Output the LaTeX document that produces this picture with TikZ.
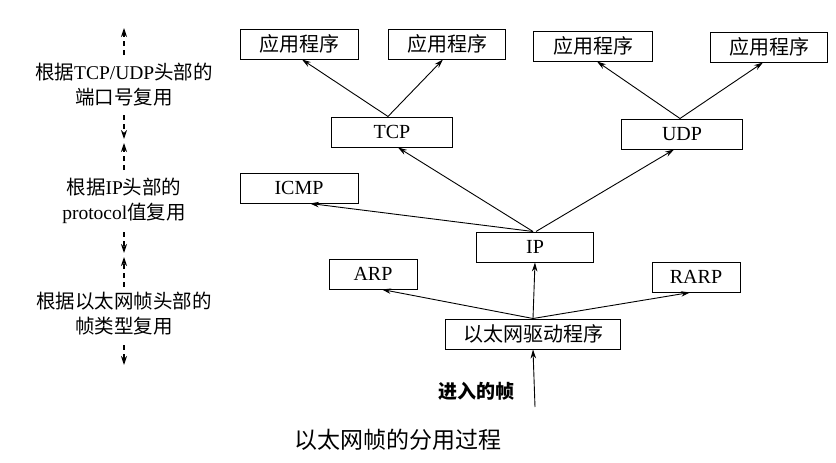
\documentclass[tikz,border=0pt]{standalone}
\usepackage{fontspec}
\setmainfont{Liberation Serif}
\newfontfamily\cjk{Noto Sans CJK SC}
\usetikzlibrary{arrows.meta}

\begin{document}
\begin{tikzpicture}[x=1pt,y=-1pt,
  box/.style={rectangle,draw,line width=1pt,inner sep=0pt,minimum height=30pt,font=\fontsize{20}{22}\selectfont},
  link/.style={-{Stealth[length=9pt,width=5.5pt]},line width=0.9pt},
  hint/.style={-{Stealth[length=9pt,width=6pt]},line width=1.1pt,dash pattern=on 5pt off 4pt},
  note/.style={align=center,font=\fontsize{19.5}{25}\selectfont}]
\useasboundingbox (0,0) rectangle (836,463);
% applications
\node [box,minimum width=118pt] (app1) at (299,44) {\cjk 应用程序};
\node [box,minimum width=117pt] (app2) at (447,44) {\cjk 应用程序};
\node [box,minimum width=119pt] (app3) at (593,46) {\cjk 应用程序};
\node [box,minimum width=117pt] (app4) at (769,47) {\cjk 应用程序};
% transport and network
\node [box,minimum width=121pt] (tcp) at (392,132) {TCP};
\node [box,minimum width=121pt] (udp) at (682,134) {UDP};
\node [box,minimum width=118pt] (icmp) at (299,188) {ICMP};
\node [box,minimum width=117pt] (ip) at (535,247) {IP};
\node [box,minimum width=88pt] (arp) at (373,274) {ARP};
\node [box,minimum width=88pt] (rarp) at (696,277) {RARP};
\node [box,minimum width=175pt] (eth) at (533,334) {\cjk 以太网驱动程序};
\coordinate (in) at (535,407);

\draw [link] ([xshift=-4pt]tcp.north) -- ([xshift=3pt]app1.south);
\draw [link] ([xshift=-4pt]tcp.north) -- ([xshift=-4pt]app2.south);
\draw [link] ([xshift=-2pt]udp.north) -- ([xshift=4pt]app3.south);
\draw [link] ([xshift=-2pt]udp.north) -- ([xshift=-6pt]app4.south);
\draw [link] ([xshift=-2pt]ip.north) -- ([xshift=11pt]icmp.south);
\draw [link] ([xshift=-2pt]ip.north) -- ([xshift=6pt]tcp.south);
\draw [link] ([xshift=1pt]ip.north) -- ([xshift=-8pt]udp.south);
\draw [link] (eth.north) -- ([xshift=9pt]arp.south);
\draw [link] (eth.north) -- (ip.south);
\draw [link] (eth.north) -- ([xshift=-6pt]rarp.south);
\draw [link] (in) -- (eth.south);
\node [anchor=east,font=\fontsize{19}{22}\selectfont\bfseries] (frame) at (518,391) {\cjk 进入的帧};

% demultiplexing notes
\node [note] (n1) at (124,85) {{\cjk 根据}TCP/UDP{\cjk 头部的}\\{\cjk 端口号复用}};
\node [note] (n2) at (124,201) {{\cjk 根据}IP{\cjk 头部的}\\protocol{\cjk 值复用}};
\node [note] (n3) at (124,314) {{\cjk 根据以太网帧头部的}\\{\cjk 帧类型复用}};
\coordinate (a1) at (124,55);  \coordinate (a2) at (124,28);
\coordinate (b1) at (124,115); \coordinate (b2) at (124,139);
\coordinate (c1) at (124,170); \coordinate (c2) at (124,143);
\coordinate (d1) at (124,232); \coordinate (d2) at (124,253);
\coordinate (e1) at (124,287); \coordinate (e2) at (124,257);
\coordinate (f1) at (124,345); \coordinate (f2) at (124,365);
\draw [hint] (a1) -- (a2);
\draw [hint] (b1) -- (b2);
\draw [hint] (c1) -- (c2);
\draw [hint] (d1) -- (d2);
\draw [hint] (e1) -- (e2);
\draw [hint] (f1) -- (f2);

\node [font=\fontsize{23}{26}\selectfont] (title) at (398,440) {\cjk 以太网帧的分用过程};
\end{tikzpicture}
\end{document}
